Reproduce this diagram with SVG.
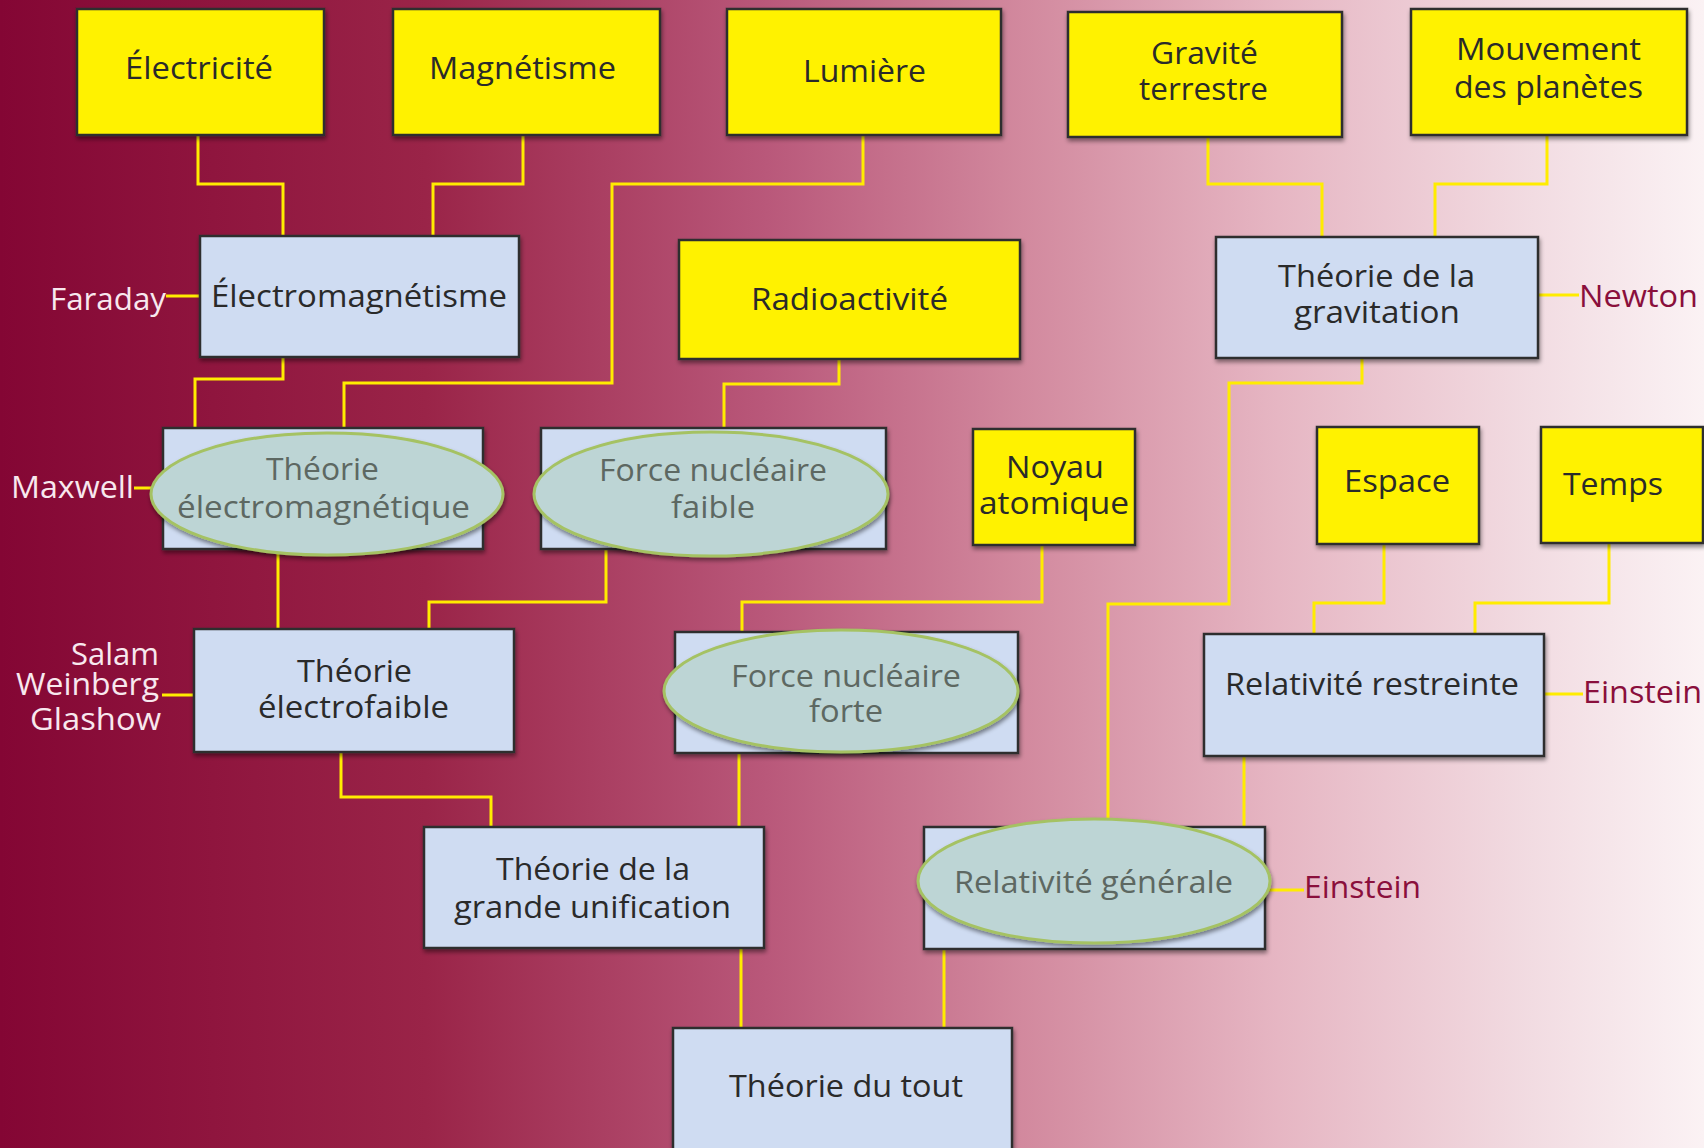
<svg xmlns="http://www.w3.org/2000/svg" width="1704" height="1148" viewBox="0 0 1704 1148">
<defs>
<linearGradient id="bg" x1="0" y1="0" x2="1" y2="0">
<stop offset="0" stop-color="#840634"/>
<stop offset="0.25" stop-color="#9a2448"/>
<stop offset="0.45" stop-color="#b9587a"/>
<stop offset="0.6" stop-color="#d2899e"/>
<stop offset="0.75" stop-color="#e6b6c3"/>
<stop offset="0.9" stop-color="#f2dce2"/>
<stop offset="1" stop-color="#fbf2f4"/>
</linearGradient>
<filter id="sh" x="-10%" y="-10%" width="120%" height="130%">
<feDropShadow dx="1" dy="3" stdDeviation="2" flood-color="#000" flood-opacity="0.45"/>
</filter>
</defs>
<style>
.y{fill:#fff200;stroke:#2e2e2e;stroke-width:2.5;filter:url(#sh)}
.b{fill:#cfdcf2;stroke:#2e2e2e;stroke-width:2.5;filter:url(#sh)}
.el{fill:#bdd5d5;stroke:#a5c263;stroke-width:3;filter:url(#sh)}
.t{font-family:"Open Sans","Noto Sans","Liberation Sans",sans-serif;font-size:31px;fill:#2a2a2a;text-anchor:middle}
.te{font-family:"Open Sans","Noto Sans","Liberation Sans",sans-serif;font-size:31px;fill:#5d6862;text-anchor:middle}
.lw{font-family:"Open Sans","Noto Sans","Liberation Sans",sans-serif;font-size:31px;fill:#f8e8ee}
.lr{font-family:"Open Sans","Noto Sans","Liberation Sans",sans-serif;font-size:31px;fill:#8a0f3c}
.c{fill:none;stroke:#ffec00;stroke-width:3;stroke-linejoin:miter}
</style>
<rect x="0" y="0" width="1704" height="1148" fill="url(#bg)"/>
<g id="connectors">
<polyline class="c" points="198,135 198,184 283,184 283,236"/>
<polyline class="c" points="523,135 523,184 433,184 433,236"/>
<polyline class="c" points="863,135 863,184 612,184 612,383 344,383 344,428"/>
<polyline class="c" points="283,357 283,379 195,379 195,428"/>
<polyline class="c" points="839,359 839,384 724,384 724,428"/>
<polyline class="c" points="1208,137 1208,184 1322,184 1322,237"/>
<polyline class="c" points="1547,135 1547,184 1435,184 1435,237"/>
<polyline class="c" points="1362,358 1362,383 1229,383 1229,604 1108,604 1108,827"/>
<polyline class="c" points="278,549 278,629"/>
<polyline class="c" points="606,549 606,602 429,602 429,629"/>
<polyline class="c" points="1042,545 1042,602 742,602 742,632"/>
<polyline class="c" points="1384,544 1384,603 1314,603 1314,634"/>
<polyline class="c" points="1609,543 1609,603 1475,603 1475,634"/>
<polyline class="c" points="341,752 341,797 491,797 491,827"/>
<polyline class="c" points="739,753 739,827"/>
<polyline class="c" points="1244,756 1244,827"/>
<polyline class="c" points="741,948 741,1028"/>
<polyline class="c" points="944,949 944,1028"/>
<line class="c" x1="166" y1="296" x2="200" y2="296"/>
<line class="c" x1="134" y1="488" x2="163" y2="488"/>
<line class="c" x1="162" y1="695" x2="194" y2="695"/>
<line class="c" x1="1538" y1="295" x2="1579" y2="295"/>
<line class="c" x1="1544" y1="694" x2="1583" y2="694"/>
<line class="c" x1="1265" y1="890" x2="1304" y2="890"/>
</g>
<g id="electricite"><rect class="y" x="77" y="9" width="247" height="126"/><text class="t" x="199" y="79" textLength="148" lengthAdjust="spacingAndGlyphs">Électricité</text></g>
<g id="magnetisme"><rect class="y" x="393" y="9" width="267" height="126"/><text class="t" x="522.5" y="79" textLength="187" lengthAdjust="spacingAndGlyphs">Magnétisme</text></g>
<g id="lumiere"><rect class="y" x="727" y="9" width="274" height="126"/><text class="t" x="864.5" y="82" textLength="123" lengthAdjust="spacingAndGlyphs">Lumière</text></g>
<g id="gravite"><rect class="y" x="1068" y="12" width="274" height="125"/><text class="t" x="1204.5" y="64" textLength="107" lengthAdjust="spacingAndGlyphs">Gravité</text><text class="t" x="1203.5" y="100" textLength="129" lengthAdjust="spacingAndGlyphs">terrestre</text></g>
<g id="mouvement"><rect class="y" x="1411" y="9" width="276" height="126"/><text class="t" x="1548.5" y="60" textLength="185" lengthAdjust="spacingAndGlyphs">Mouvement</text><text class="t" x="1548.5" y="98" textLength="189" lengthAdjust="spacingAndGlyphs">des planètes</text></g>
<g id="electromagnetisme"><rect class="b" x="200" y="236" width="319" height="121"/><text class="t" x="359" y="307" textLength="296" lengthAdjust="spacingAndGlyphs">Électromagnétisme</text></g>
<g id="radioactivite"><rect class="y" x="679" y="240" width="341" height="119"/><text class="t" x="849.5" y="310" textLength="197" lengthAdjust="spacingAndGlyphs">Radioactivité</text></g>
<g id="gravitation"><rect class="b" x="1216" y="237" width="322" height="121"/><text class="t" x="1376.5" y="287" textLength="197" lengthAdjust="spacingAndGlyphs">Théorie de la</text><text class="t" x="1377" y="323" textLength="166" lengthAdjust="spacingAndGlyphs">gravitation</text></g>
<g id="theorie-em"><rect class="b" x="163" y="428" width="320" height="121"/><ellipse class="el" cx="327" cy="494" rx="176" ry="61"/><text class="te" x="322.5" y="480" textLength="113" lengthAdjust="spacingAndGlyphs">Théorie</text><text class="te" x="323.5" y="518" textLength="293" lengthAdjust="spacingAndGlyphs">électromagnétique</text></g>
<g id="force-faible"><rect class="b" x="541" y="428" width="345" height="121"/><ellipse class="el" cx="711" cy="494" rx="177" ry="62"/><text class="te" x="713" y="481" textLength="228" lengthAdjust="spacingAndGlyphs">Force nucléaire</text><text class="te" x="713" y="518" textLength="84" lengthAdjust="spacingAndGlyphs">faible</text></g>
<g id="noyau"><rect class="y" x="973" y="429" width="162" height="116"/><text class="t" x="1055" y="478" textLength="98" lengthAdjust="spacingAndGlyphs">Noyau</text><text class="t" x="1054" y="514" textLength="150" lengthAdjust="spacingAndGlyphs">atomique</text></g>
<g id="espace"><rect class="y" x="1317" y="427" width="162" height="117"/><text class="t" x="1397" y="492" textLength="106" lengthAdjust="spacingAndGlyphs">Espace</text></g>
<g id="temps"><rect class="y" x="1541" y="427" width="162" height="116"/><text class="t" x="1613" y="495" textLength="100" lengthAdjust="spacingAndGlyphs">Temps</text></g>
<g id="electrofaible"><rect class="b" x="194" y="629" width="320" height="123"/><text class="t" x="354.5" y="682" textLength="115" lengthAdjust="spacingAndGlyphs">Théorie</text><text class="t" x="353.5" y="718" textLength="191" lengthAdjust="spacingAndGlyphs">électrofaible</text></g>
<g id="force-forte"><rect class="b" x="675" y="632" width="343" height="121"/><ellipse class="el" cx="841" cy="691" rx="177" ry="61"/><text class="te" x="846" y="687" textLength="230" lengthAdjust="spacingAndGlyphs">Force nucléaire</text><text class="te" x="846" y="722" textLength="74" lengthAdjust="spacingAndGlyphs">forte</text></g>
<g id="restreinte"><rect class="b" x="1204" y="634" width="340" height="122"/><text class="t" x="1372" y="695" textLength="294" lengthAdjust="spacingAndGlyphs">Relativité restreinte</text></g>
<g id="grande-unification"><rect class="b" x="424" y="827" width="340" height="121"/><text class="t" x="593" y="880" textLength="194" lengthAdjust="spacingAndGlyphs">Théorie de la</text><text class="t" x="592.5" y="918" textLength="277" lengthAdjust="spacingAndGlyphs">grande unification</text></g>
<g id="generale"><rect class="b" x="924" y="827" width="341" height="122"/><ellipse class="el" cx="1094" cy="881" rx="176" ry="62"/><text class="te" x="1093.5" y="893" textLength="279" lengthAdjust="spacingAndGlyphs">Relativité générale</text></g>
<g id="tout"><rect class="b" x="673" y="1028" width="339" height="125"/><text class="t" x="846" y="1097" textLength="234" lengthAdjust="spacingAndGlyphs">Théorie du tout</text></g>
<g id="labels">
<text class="lw" x="50" y="310" textLength="116" lengthAdjust="spacingAndGlyphs">Faraday</text>
<text class="lw" x="11" y="498" textLength="123" lengthAdjust="spacingAndGlyphs">Maxwell</text>
<text class="lw" x="71" y="665" textLength="88" lengthAdjust="spacingAndGlyphs">Salam</text>
<text class="lw" x="16" y="695" textLength="143" lengthAdjust="spacingAndGlyphs">Weinberg</text>
<text class="lw" x="30" y="730" textLength="131" lengthAdjust="spacingAndGlyphs">Glashow</text>
<text class="lr" x="1579" y="307" textLength="119" lengthAdjust="spacingAndGlyphs">Newton</text>
<text class="lr" x="1583" y="703" textLength="119" lengthAdjust="spacingAndGlyphs">Einstein</text>
<text class="lr" x="1304" y="898" textLength="117" lengthAdjust="spacingAndGlyphs">Einstein</text>
</g>
</svg>
